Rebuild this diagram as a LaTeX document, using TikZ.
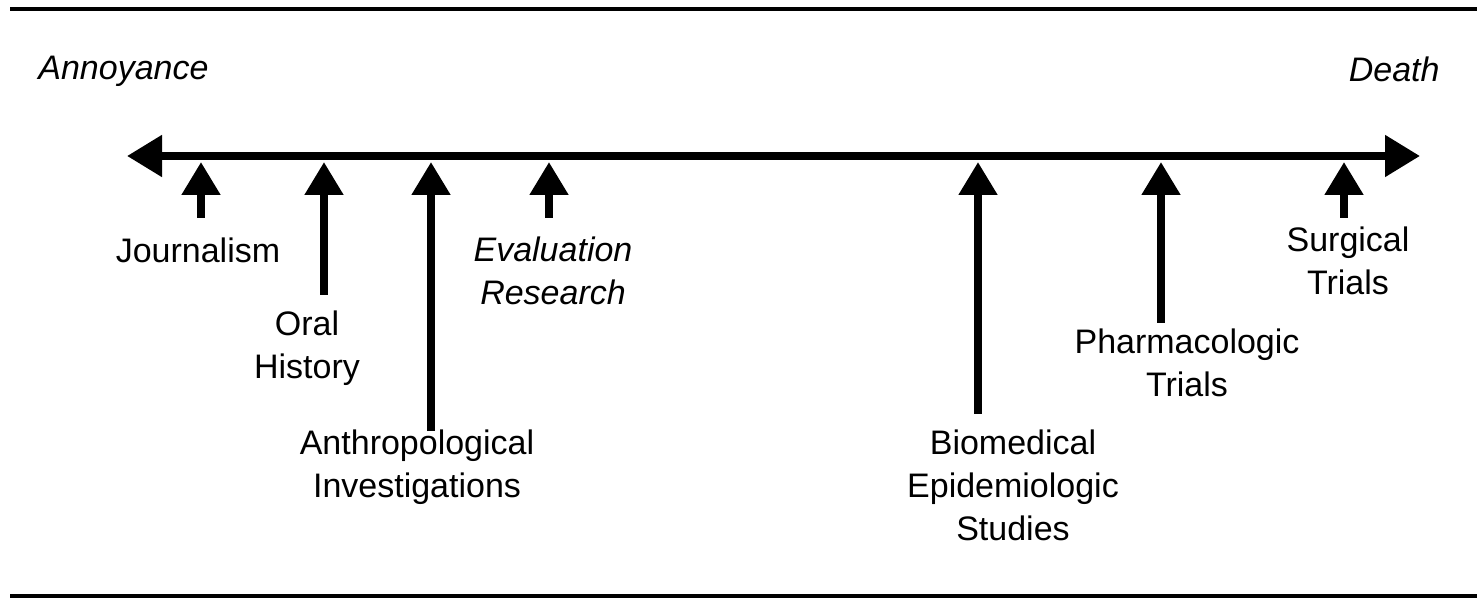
\documentclass[tikz,border=0pt]{standalone}
\usepackage{fontspec}
\setmainfont{Liberation Sans}
\usetikzlibrary{arrows.meta}
\begin{document}
\begin{tikzpicture}[x=0.5pt,y=-0.5pt,
  lbl/.style={inner sep=0pt, anchor=north, align=center, font=\fontsize{17}{21.5}\selectfont},
  ilbl/.style={lbl, font=\fontsize{17}{21.5}\selectfont\itshape},
  rule/.style={line width=2pt},
  axisline/.style={line width=4pt, {Triangle[length=17.5pt,width=20pt]}-{Triangle[length=17.5pt,width=20pt]}},
  uparrow/.style={line width=4pt, -{Triangle[length=16.5pt,width=18.5pt]}}]
\useasboundingbox (0,0) rectangle (1477,598);
% rules
\coordinate (tl) at (10,9);
\coordinate (tr) at (1477,9);
\coordinate (bl) at (10,596);
\coordinate (br) at (1477,596);
\draw[rule] (tl) -- (tr);
\draw[rule] (bl) -- (br);
% axis
\coordinate (L) at (127,156);
\coordinate (R) at (1420,156);
\draw[axisline] (L) -- (R);
% end labels
\node[ilbl, anchor=north west] (ann) at (38,56) {Annoyance};
\node[ilbl, anchor=north east] (death) at (1440,56) {Death};
% arrows
\coordinate (jt) at (201,162); \coordinate (jb) at (201,218);
\coordinate (ot) at (324,162); \coordinate (ob) at (324,295);
\coordinate (at) at (431,162); \coordinate (ab) at (431,431);
\coordinate (et) at (549,162); \coordinate (eb) at (549,218);
\coordinate (bt) at (978,162); \coordinate (bb) at (978,414);
\coordinate (pt) at (1161,162); \coordinate (pb) at (1161,323);
\coordinate (st) at (1344,162); \coordinate (sb) at (1344,218);
\draw[uparrow] (jb) -- (jt);
\draw[uparrow] (ob) -- (ot);
\draw[uparrow] (ab) -- (at);
\draw[uparrow] (eb) -- (et);
\draw[uparrow] (bb) -- (bt);
\draw[uparrow] (pb) -- (pt);
\draw[uparrow] (sb) -- (st);
% labels
\node[lbl] (jour) at (198,237) {Journalism};
\node[lbl] (oral) at (307,310) {Oral\\History};
\node[lbl] (anth) at (417,429) {Anthropological\\Investigations};
\node[ilbl] (eval) at (553,236) {Evaluation\\Research};
\node[lbl] (bio) at (1013,429) {Biomedical\\Epidemiologic\\Studies};
\node[lbl] (pharm) at (1187,328) {Pharmacologic\\Trials};
\node[lbl] (surg) at (1348,226) {Surgical\\Trials};
\end{tikzpicture}
\end{document}
